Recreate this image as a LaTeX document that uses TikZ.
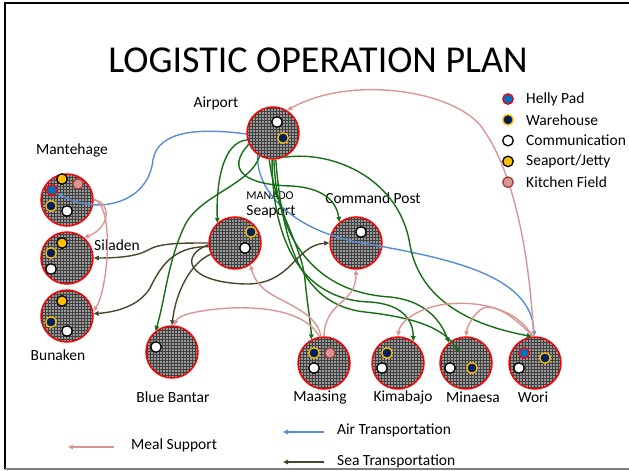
\documentclass[tikz,border=0pt]{standalone}
\usepackage{fontspec}
\setmainfont{Carlito}
\usetikzlibrary{shapes, calc, arrows.meta, patterns}

\definecolor{airblue}{RGB}{85,142,213}
\definecolor{landgreen}{RGB}{22,110,22}
\definecolor{seabrown}{RGB}{74,69,42}
\definecolor{mealpink}{RGB}{217,150,148}
\definecolor{heliblue}{RGB}{0,112,192}
\definecolor{navy}{RGB}{0,32,96}
\definecolor{gold}{RGB}{255,192,0}
\definecolor{kitchenred}{RGB}{160,60,58}

\begin{document}
\begin{tikzpicture}[x=1pt, y=-1pt,
site_style/.style={circle, minimum size=52pt, inner sep=0pt, draw=red, line width=1.5pt, preaction={fill=black!40}, pattern=grid, pattern color=black!75},
dot_style/.style={circle, minimum size=10.5pt, inner sep=0pt, line width=1.3pt},
dot_heli/.style={dot_style, fill=heliblue, draw=red},
dot_ware/.style={dot_style, fill=navy, draw=gold},
dot_comm/.style={dot_style, fill=white, draw=black},
dot_port/.style={dot_style, fill=gold, draw=black},
dot_kitchen/.style={dot_style, fill=mealpink, draw=kitchenred},
label_style/.style={font=\fontsize{15.5}{18}\selectfont, inner sep=0pt},
air_style/.style={draw=airblue, line width=1.4pt, -{Triangle[length=5pt,width=4.5pt]}},
land_style/.style={draw=landgreen, line width=1.4pt, -{Triangle[length=5pt,width=4.5pt]}},
sea_style/.style={draw=seabrown, line width=1.4pt, -{Triangle[length=5pt,width=4.5pt]}},
meal_style/.style={draw=mealpink, line width=1.4pt, -{Triangle[length=5pt,width=4.5pt]}},
]
\useasboundingbox (0,0) rectangle (629,471);

% slide frame
\draw[line width=2pt] (629,3) -- (5,3) -- (5,469);
\draw[line width=2pt, gray] (5,469) -- (629,469);

\node[font=\fontsize{38}{44}\selectfont, inner sep=0pt] (title) at (318,60) {LOGISTIC OPERATION PLAN};

% sites
\node[site_style] (airport) at (273,133) {};
\node[site_style] (seaport) at (235,243) {};
\node[site_style] (cmdpost) at (356,243) {};
\node[site_style] (mantehage) at (67,200) {};
\node[site_style] (siladen) at (67,258) {};
\node[site_style] (bunaken) at (67,316) {};
\node[site_style] (bantar) at (172,352) {};
\node[site_style] (maasing) at (324,363) {};
\node[site_style] (kimabajo) at (398,363) {};
\node[site_style] (minaesa) at (466,363) {};
\node[site_style] (wori) at (535,363) {};

% facilities inside the sites
\foreach \s/\x/\y/\n in {dot_comm/277/122/ap_comm, dot_ware/283/138/ap_ware,
    dot_port/62/179/mh_port, dot_kitchen/78/184/mh_kitchen, dot_heli/52/190/mh_heli, dot_ware/51/206/mh_ware, dot_comm/67/211/mh_comm,
    dot_port/62/243/sl_port, dot_ware/51/253/sl_ware, dot_comm/51/269/sl_comm,
    dot_port/62/301/bk_port, dot_ware/51/322/bk_ware, dot_comm/67/331/bk_comm,
    dot_comm/156/347/bb_comm,
    dot_ware/251/232/sp_ware, dot_comm/245/248/sp_comm,
    dot_comm/361/232/cp_comm,
    dot_ware/314/353/ms_ware, dot_kitchen/330/353/ms_kitchen, dot_comm/314/368/ms_comm,
    dot_ware/387/353/kb_ware, dot_comm/382/368/kb_comm,
    dot_comm/450/368/mn_comm, dot_ware/472/368/mn_ware,
    dot_heli/524/353/wr_heli, dot_ware/545/358/wr_ware, dot_comm/519/368/wr_comm}{
    \node[\s] (\n) at (\x,\y) {};
}

% site names
\node[label_style] (lbl_airport) at (216,103) {Airport};
\node[label_style] (lbl_mantehage) at (72,150) {Mantehage};
\node[label_style] (lbl_siladen) at (117,245) {Siladen};
\node[label_style] (lbl_bunaken) at (58,355) {Bunaken};
\node[label_style] (lbl_bantar) at (173,397) {Blue Bantar};
\node[label_style] (lbl_maasing) at (320,397) {Maasing};
\node[label_style] (lbl_kimabajo) at (403,397) {Kimabajo};
\node[label_style] (lbl_minaesa) at (473,397) {Minaesa};
\node[label_style] (lbl_wori) at (533,397) {Wori};
\node[font=\fontsize{12}{14}\selectfont, inner sep=0pt] (lbl_manado) at (270,196) {MANADO};
\node[label_style] (lbl_seaport) at (271,212) {Seaport};
\node[label_style] (lbl_cmdpost) at (373,198) {Command Post};

% air transportation
\draw[air_style] (airport.182) .. controls (200,128) and (158,130) .. (153,160) .. controls (148,205) and (95,215) .. (mh_heli);
\draw[air_style] (airport.235) .. controls (256,190) and (290,228) .. (356,242) .. controls (450,258) and (532,275) .. (wori.92);

% land transportation
\draw[land_style] (airport.195) .. controls (222,142) and (216,185) .. (seaport.131);
\draw[land_style] (airport.205) .. controls (225,170) and (245,185) .. (292,186) .. controls (322,188) and (336,200) .. (cmdpost.128);
\draw[land_style] (airport.240) .. controls (250,185) and (200,195) .. (185,225) .. controls (168,260) and (165,300) .. (bantar.128);
\draw[land_style] (airport.262) .. controls (275,210) and (302,245) .. (305,280) .. controls (308,310) and (311,325) .. (maasing.118);
\draw[land_style] (airport.268) .. controls (272,235) and (298,300) .. (370,302) .. controls (400,304) and (413,318) .. (kimabajo.55);
\draw[land_style] (airport.272) .. controls (276,230) and (308,292) .. (390,297) .. controls (422,300) and (440,318) .. (minaesa.130);
\draw[land_style, shorten >=13pt] (airport.276) .. controls (282,240) and (300,305) .. (365,312) .. controls (420,318) and (445,330) .. (minaesa.center);
\draw[land_style] (airport.295) .. controls (335,150) and (400,180) .. (410,245) .. controls (420,300) and (470,325) .. (wori.97);

% sea transportation
\draw[sea_style] (seaport.180) .. controls (180,243) and (160,243) .. (148,250) .. controls (138,256) and (120,258) .. (siladen.east);
\draw[sea_style] (seaport.188) .. controls (172,246) and (160,268) .. (150,288) .. controls (140,305) and (118,312) .. (bunaken.5);
\draw[sea_style] (seaport.205) .. controls (192,262) and (176,290) .. (bantar.north);
\draw[sea_style] (seaport.184) .. controls (180,255) and (185,282) .. (245,284) .. controls (292,285) and (295,245) .. (cmdpost.west);

% meal support
\draw[meal_style] (mantehage.east) .. controls (112,202) and (110,228) .. (siladen.50);
\draw[meal_style] (mantehage.2) .. controls (115,205) and (108,290) .. (bunaken.10);
\draw[meal_style] (wori.93) .. controls (530,260) and (515,170) .. (480,125) .. controls (450,90) and (350,75) .. (airport.58);
\draw[meal_style] (maasing.97) .. controls (318,312) and (280,302) .. (265,290) .. controls (256,282) and (253,275) .. (seaport.305);
\draw[meal_style] (maasing.90) .. controls (325,300) and (356,305) .. (cmdpost.south);
\draw[meal_style] (maasing.100) .. controls (310,318) and (280,306) .. (230,308) .. controls (198,310) and (178,315) .. (bantar.85);
\draw[meal_style] (wori.95) .. controls (515,305) and (470,300) .. (440,305) .. controls (415,310) and (400,322) .. (kimabajo.north);
\draw[meal_style] (wori.95) .. controls (510,312) and (488,300) .. (478,312) .. controls (470,320) and (467,328) .. (minaesa.north);

% facility legend
\foreach \s/\t [count=\i] in {dot_heli/Helly Pad, dot_ware/Warehouse, dot_comm/Communication, dot_port/{Seaport/Jetty}, dot_kitchen/Kitchen Field}{
    \node[\s] (key\i) at (508,{99+20.8*(\i-1)}) {};
    \node[label_style, anchor=west] (keytxt\i) at (526,{99+20.8*(\i-1)}) {\t};
}

% transport legend
\node[label_style, anchor=west] (lg_meal) at (131,445) {Meal Support};
\node[label_style, anchor=west] (lg_air) at (337,430) {Air Transportation};
\node[label_style, anchor=west] (lg_sea) at (337,461) {Sea Transportation};
\coordinate (meal_tail) at (114,447);
\coordinate (meal_key) at (68,447);
\coordinate (air_tail) at (324,432);
\coordinate (air_key) at (283,432);
\coordinate (sea_tail) at (324,462);
\coordinate (sea_key) at (283,462);
\draw[meal_style] (meal_tail) -- (meal_key);
\draw[air_style] (air_tail) -- (air_key);
\draw[sea_style] (sea_tail) -- (sea_key);

\end{tikzpicture}
\end{document}
